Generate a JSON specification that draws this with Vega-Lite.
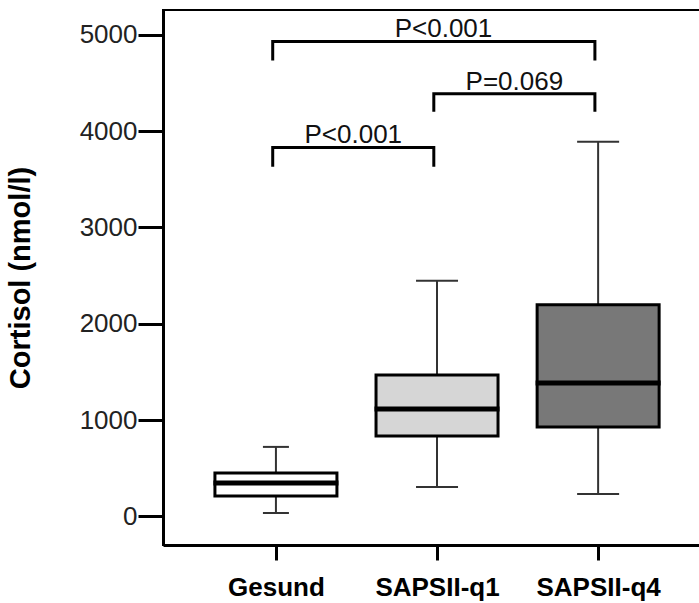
{
  "$schema": "https://vega.github.io/schema/vega-lite/v6.json",
  "autosize": "none",
  "padding": {"left": 163, "top": 10, "right": 0, "bottom": 58},
  "width": 540,
  "height": 535,
  "background": "white",
  "config": {
    "font": "Liberation Sans",
    "view": {"stroke": "black", "strokeWidth": 2}
  },
  "datasets": {
    "boxes": [
      {"group": "Gesund", "pos": 1, "lo": 36, "q1": 213, "med": 348, "q3": 452, "hi": 722},
      {"group": "SAPSII-q1", "pos": 2, "lo": 306, "q1": 836, "med": 1116, "q3": 1469, "hi": 2445},
      {"group": "SAPSII-q4", "pos": 3, "lo": 234, "q1": 929, "med": 1386, "q3": 2196, "hi": 3889}
    ],
    "brackets": [
      {"bracket": "A", "order": 1, "x": 0.98, "y": 4733},
      {"bracket": "A", "order": 2, "x": 0.98, "y": 4930},
      {"bracket": "A", "order": 3, "x": 2.98, "y": 4930},
      {"bracket": "A", "order": 4, "x": 2.98, "y": 4733},
      {"bracket": "B", "order": 1, "x": 1.98, "y": 4200},
      {"bracket": "B", "order": 2, "x": 1.98, "y": 4387},
      {"bracket": "B", "order": 3, "x": 2.98, "y": 4387},
      {"bracket": "B", "order": 4, "x": 2.98, "y": 4200},
      {"bracket": "C", "order": 1, "x": 0.98, "y": 3629},
      {"bracket": "C", "order": 2, "x": 0.98, "y": 3830},
      {"bracket": "C", "order": 3, "x": 1.98, "y": 3830},
      {"bracket": "C", "order": 4, "x": 1.98, "y": 3629}
    ],
    "labels": [
      {"label": "P<0.001", "x": 2.04, "y": 4979},
      {"label": "P=0.069", "x": 2.48, "y": 4429},
      {"label": "P<0.001", "x": 1.48, "y": 3878}
    ]
  },
  "layer": [
    {
      "data": {"name": "boxes"},
      "mark": {"type": "rule", "color": "#333333", "strokeWidth": 2},
      "encoding": {
        "x": {
          "field": "pos", "type": "quantitative",
          "scale": {"domain": [0.33, 3.62], "nice": false, "zero": false},
          "axis": {
            "values": [1, 2, 3],
            "labelExpr": "datum.value == 1 ? 'Gesund' : datum.value == 2 ? 'SAPSII-q1' : datum.value == 3 ? 'SAPSII-q4' : ''",
            "title": null, "grid": false,
            "domainColor": "black", "domainWidth": 3,
            "tickColor": "black", "tickWidth": 3, "tickSize": 15,
            "labelFont": "Liberation Sans", "labelFontWeight": "bold", "labelFontSize": 26,
            "labelColor": "black", "labelPadding": 14
          }
        },
        "y": {
          "field": "lo", "type": "quantitative",
          "scale": {"domain": [-296, 5256], "nice": false, "zero": false},
          "axis": {
            "values": [0, 1000, 2000, 3000, 4000, 5000],
            "format": "d",
            "title": "Cortisol (nmol/l)", "grid": false,
            "titleFont": "Liberation Sans", "titleFontSize": 29, "titleFontWeight": "bold",
            "titleColor": "black", "titlePadding": 44,
            "domainColor": "black", "domainWidth": 3,
            "tickColor": "black", "tickWidth": 3, "tickSize": 25,
            "labelFont": "Liberation Sans", "labelFontSize": 26, "labelColor": "#222222",
            "labelPadding": 1
          }
        },
        "y2": {"field": "hi"}
      }
    },
    {
      "data": {"name": "boxes"},
      "transform": [{"filter": "datum.pos == 1"}],
      "mark": {"type": "tick", "orient": "horizontal", "size": 26, "thickness": 2, "color": "#333333", "opacity": 1},
      "encoding": {
        "x": {"field": "pos", "type": "quantitative"},
        "y": {"field": "lo", "type": "quantitative"}
      }
    },
    {
      "data": {"name": "boxes"},
      "transform": [{"filter": "datum.pos == 1"}],
      "mark": {"type": "tick", "orient": "horizontal", "size": 26, "thickness": 2, "color": "#333333", "opacity": 1},
      "encoding": {
        "x": {"field": "pos", "type": "quantitative"},
        "y": {"field": "hi", "type": "quantitative"}
      }
    },
    {
      "data": {"name": "boxes"},
      "transform": [{"filter": "datum.pos != 1"}],
      "mark": {"type": "tick", "orient": "horizontal", "size": 42, "thickness": 2, "color": "#333333", "opacity": 1},
      "encoding": {
        "x": {"field": "pos", "type": "quantitative"},
        "y": {"field": "lo", "type": "quantitative"}
      }
    },
    {
      "data": {"name": "boxes"},
      "transform": [{"filter": "datum.pos != 1"}],
      "mark": {"type": "tick", "orient": "horizontal", "size": 42, "thickness": 2, "color": "#333333", "opacity": 1},
      "encoding": {
        "x": {"field": "pos", "type": "quantitative"},
        "y": {"field": "hi", "type": "quantitative"}
      }
    },
    {
      "data": {"name": "boxes"},
      "mark": {"type": "bar", "size": 122, "stroke": "black", "strokeWidth": 3, "opacity": 1},
      "encoding": {
        "x": {"field": "pos", "type": "quantitative"},
        "y": {"field": "q1", "type": "quantitative"},
        "y2": {"field": "q3"},
        "fill": {
          "field": "group", "type": "nominal",
          "scale": {"domain": ["Gesund", "SAPSII-q1", "SAPSII-q4"], "range": ["#ffffff", "#d6d6d6", "#787878"]},
          "legend": null
        }
      }
    },
    {
      "data": {"name": "boxes"},
      "mark": {"type": "tick", "orient": "horizontal", "size": 125, "thickness": 5, "color": "black", "opacity": 1},
      "encoding": {
        "x": {"field": "pos", "type": "quantitative"},
        "y": {"field": "med", "type": "quantitative"}
      }
    },
    {
      "data": {"name": "brackets"},
      "mark": {"type": "line", "color": "black", "strokeWidth": 3, "strokeJoin": "miter"},
      "encoding": {
        "x": {"field": "x", "type": "quantitative"},
        "y": {"field": "y", "type": "quantitative"},
        "detail": {"field": "bracket"},
        "order": {"field": "order", "type": "quantitative"}
      }
    },
    {
      "data": {"name": "labels"},
      "mark": {"type": "text", "font": "Liberation Sans", "fontSize": 26, "color": "#111111", "align": "center", "baseline": "alphabetic"},
      "encoding": {
        "x": {"field": "x", "type": "quantitative"},
        "y": {"field": "y", "type": "quantitative"},
        "text": {"field": "label"}
      }
    }
  ]
}
